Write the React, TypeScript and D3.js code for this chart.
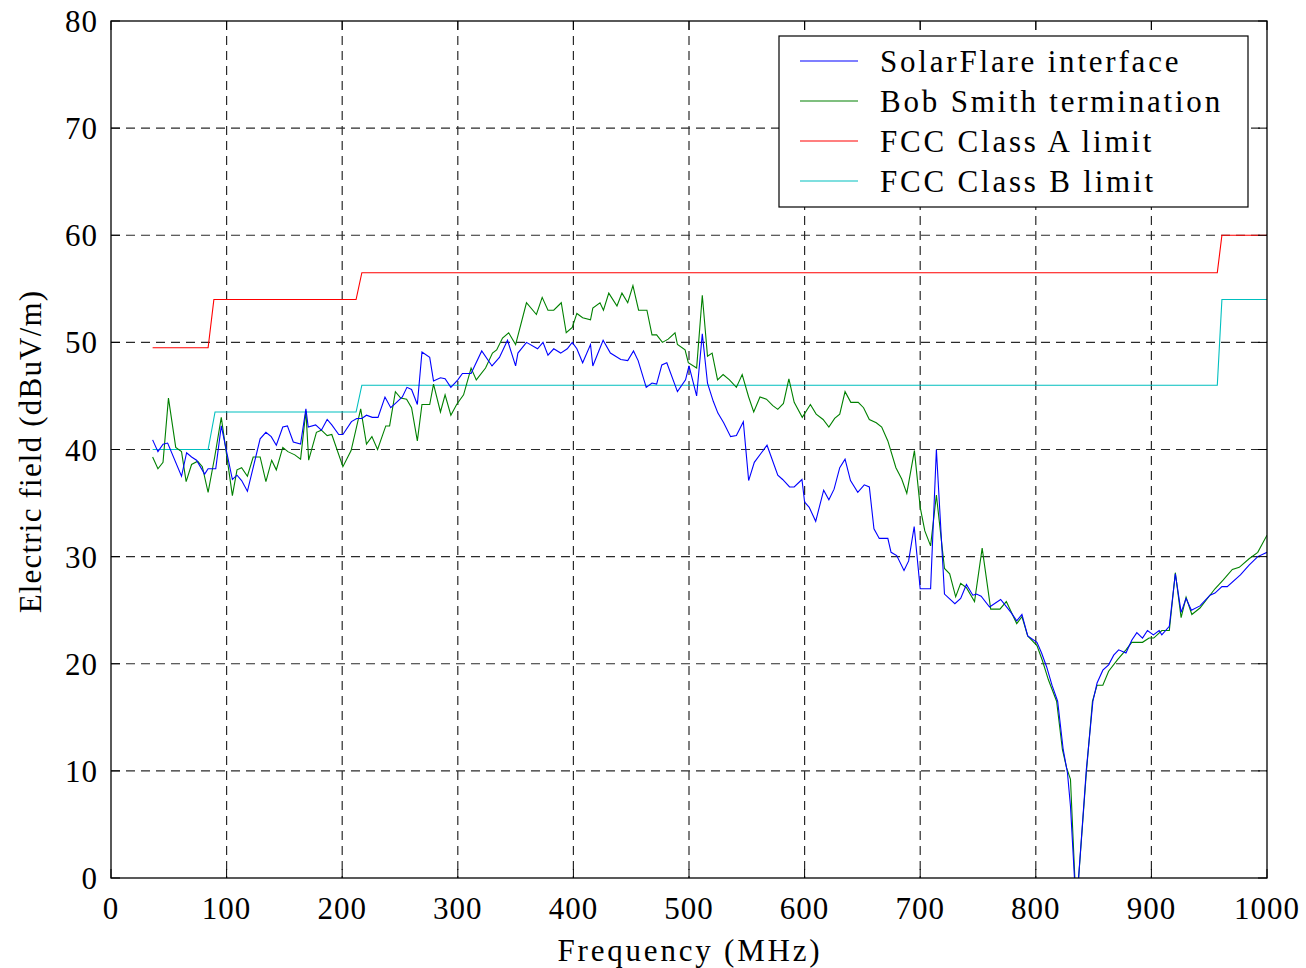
import React from "react";
import * as d3 from "d3";

const xTicks = [0, 100, 200, 300, 400, 500, 600, 700, 800, 900, 1000];
const yTicks = [0, 10, 20, 30, 40, 50, 60, 70, 80];

const solarFreq = [36,40.6,45,49,61,65.4,69.7,74,81,84,90.6,95.4,105,109,113,118,129,134,138.6,143,148.6,152.6,157.7,164,168.6,170.6,177,182,187,191,197,200.6,208,212.6,217,221,226,231,237,242,247,252,256,260,265,269,275.7,279,285,289,294,300,304,311.5,320.7,329.6,336,343,350,352,359.4,369,373.7,378,383,389,394.7,399,403,408,414.8,416.8,425.7,432,441,447,452,456,463,468,472,476.5,480.8,490,497,500,506.6,511.5,516,521,525,530,536,541,547,551.6,556.5,562,567.5,576.8,581,587,591,597.7,600,604,609.6,616.5,621,625.5,630.4,635,639.7,646,651.6,656,660,664.6,672,674.8,679.7,686,690,694.8,700,709,714,721,730,735,740,745.5,748.7,752.7,760,769.6,778.8,783.5,788,793,801,805,809.4,814,818.9,823.7,827.4,830,835,843.7,849.4,853,858,863,867.4,871.7,878,883,887.4,892.3,896.6,901.7,906.7,909,915.5,920.7,925.7,930,934.6,942,950.7,955,961,965.6,977,984.5,992,1000];
const solarValue = [40.9,39.8,40.5,40.6,37.5,39.7,39.3,39.0,37.7,38.2,38.2,42.2,37.2,37.6,37.1,36.1,41,41.6,41.2,40.4,42.1,42.2,40.7,40.5,43.8,42.1,42.3,41.8,42.8,42.3,41.4,41.4,42.6,42.9,42.9,43.2,43,43,44.9,43.9,44.4,44.9,45.8,45.6,44.2,49.1,48.6,46.4,46.7,46.6,45.8,46.5,47.1,47.1,49.2,47.8,48.6,50.2,47.8,49,50,49.4,50,48.8,49.4,49,49.4,50,49.4,48.1,49.8,47.8,50.2,49,48.4,48.3,49.2,48.3,45.8,46.2,46.1,47.9,48.1,45.4,46.5,47.8,45,50.8,46.2,44.5,43.4,42.5,41.2,41.3,42.6,37.1,38.8,39.6,40.4,37.6,37.2,36.5,36.5,37.2,35.1,34.6,33.3,36.2,35.3,36.3,38.3,39.1,37.1,36,36.7,36.5,32.6,31.7,31.7,30.4,30.1,28.7,29.6,32.8,27,27,40,26.5,25.6,26.1,27.4,26.4,26.5,26.3,25.3,26,24.75,24,24.6,22.6,22,21,19.7,18,16.5,12,9.8,6.7,-3,10.1,16.5,18.2,19.4,19.9,20.8,21.3,21,22.2,22.9,22.4,23.1,22.7,23.1,22.7,23.5,28.4,24.8,26.1,25,25.4,26.4,26.6,27.2,27.2,28.3,29.2,30,30.4];

const bobFreq = [36,40.6,45,49.7,56,61,65,69.7,75,79,84,89.7,95.4,105,109,113,118,123,129,134,139,143,148.6,153,159,164,168.6,171,177.7,182,187,191,200.6,207.7,216,221,225.7,230.6,237.7,241,246,250.6,255.7,260,265,269,275.7,279,285,289,294,299,305,311.5,316,324,330,333.6,338.7,344,350,359.4,368,373,378,383,389.5,393.8,399,403,408,414.8,416.8,423,426,430.6,437.7,442,447,451.5,456.4,463.6,468,472,477,482,487.9,490,496.6,499.4,506.6,511.5,516,520,524.7,529.5,535,541,546,551.6,556,561.4,567,572.5,576.8,581.7,586.4,591,598,605,610,616,621,626,630.4,635,640,646.4,651,656,662,666.7,672,679,684,688.4,695,700,704,709,714,721,725.5,730.7,735,740,747,753.6,761,769,774.5,783.5,788,793,801,805.7,810.9,818,823,826.6,830,835,843.7,849,853,858,863,870.9,878,883,892.3,898,902,909,915.5,920.7,925.7,930,935,942,955,962,970,976,984.5,992,1000];
const bobValue = [39.3,38.2,38.8,44.8,40.2,39.8,37,38.6,38.9,38.4,36,39.3,43,35.7,38.1,38.3,37.5,39.3,39.3,37,39,38.1,40.2,39.8,39.5,39.1,43.6,39,41.6,41.8,41.3,41.4,38.4,39.9,43.8,40.5,41.2,40,42.2,42.2,45.4,44.8,44.7,43.9,40.8,44.2,44.2,46.1,43.5,45.1,43.2,44.2,45.1,47.6,46.5,47.6,49,49.3,50.4,50.9,49.8,53.7,52.6,54.2,53,53,53.7,50.9,51.4,52.7,52.3,52.1,53.2,53.7,53,54.6,53.4,54.6,53.7,55.3,53,53,50.7,50.7,50,50.3,50.9,49.8,49.3,48.1,47.6,54.4,48.7,49,46.5,47,46.5,45.8,47,44.9,43.5,44.9,44.7,44.1,43.75,44.3,46.6,44.4,43,44.2,43.3,42.8,42.1,42.9,43.3,45.4,44.4,44.4,43.9,42.8,42.5,42.1,40.8,38.3,37.25,35.9,39.9,34.6,32.4,31,35.75,28.9,28.4,26.25,27.5,27.1,25.8,30.8,25.1,25.1,25.8,23.75,24.4,22.6,21.7,20.3,18.5,16.5,12,10.3,9.2,-3,9.8,16.5,18,18,19.3,20.4,21.3,22,22,22.4,22.4,23.1,23.1,28.5,24.3,26.2,24.6,25.2,27,27.8,28.8,29,29.8,30.4,32];

const classAFreq = [36, 84, 89, 212, 217, 957, 961, 1000];
const classAValue = [49.5, 49.5, 54, 54, 56.5, 56.5, 60, 60];
const classBFreq = [36, 84, 90, 212, 217, 957, 961, 1000];
const classBValue = [40, 40, 43.5, 43.5, 46, 46, 54, 54];

const seriesNames = ["SolarFlare interface", "Bob Smith termination", "FCC Class A limit", "FCC Class B limit"];
const seriesColors = ["#0000ff", "#008000", "#ff0000", "#00bfbf"];

const W = 1306, H = 968;
const L = 111, T = 21, R = 1267, B = 878;
const FONT = "'Liberation Serif', 'Times New Roman', serif";

export default function App() {
  const x = d3.scaleLinear().domain([0, 1000]).range([L, R]);
  const y = d3.scaleLinear().domain([0, 80]).range([B, T]);
  const line = d3.line<[number, number]>().x(d => x(d[0])).y(d => y(d[1]));
  const zip = (f: number[], v: number[]) => f.map((ff, i) => [ff, v[i]] as [number, number]);
  const series = [
    zip(solarFreq, solarValue),
    zip(bobFreq, bobValue),
    zip(classAFreq, classAValue),
    zip(classBFreq, classBValue),
  ];
  const drawOrder = [2, 3, 1, 0];
  const tickLen = 9;
  return (
    <svg width={W} height={H} style={{ position: "absolute", left: 0, top: 0, background: "#fff" }} fontFamily={FONT}>
      <defs>
        <clipPath id="plotclip"><rect x={L} y={T} width={R - L} height={B - T} /></clipPath>
      </defs>
      <rect x={0} y={0} width={W} height={H} fill="#fff" />
      {xTicks.slice(1, -1).map(t => (
        <line key={"gx" + t} x1={x(t)} x2={x(t)} y1={T} y2={B} stroke="#2a2a2a" strokeWidth={1.2} strokeDasharray="9,6" />
      ))}
      {yTicks.slice(1, -1).map(t => (
        <line key={"gy" + t} x1={L} x2={R} y1={y(t)} y2={y(t)} stroke="#2a2a2a" strokeWidth={1.2} strokeDasharray="9,6" />
      ))}
      <g clipPath="url(#plotclip)">
        {drawOrder.map(i => (
          <path key={"s" + i} d={line(series[i]) || ""} fill="none" stroke={seriesColors[i]} strokeWidth={1.1} />
        ))}
      </g>
      <rect x={L} y={T} width={R - L} height={B - T} fill="none" stroke="#000" strokeWidth={1.3} />
      {xTicks.map(t => (
        <g key={"tx" + t}>
          <line x1={x(t)} x2={x(t)} y1={B} y2={B - tickLen} stroke="#000" />
          <line x1={x(t)} x2={x(t)} y1={T} y2={T + tickLen} stroke="#000" />
          <text x={x(t)} y={B + 41} textAnchor="middle" fontSize={31} letterSpacing={1}>{t}</text>
        </g>
      ))}
      {yTicks.map(t => (
        <g key={"ty" + t}>
          <line x1={L} x2={L + tickLen} y1={y(t)} y2={y(t)} stroke="#000" />
          <line x1={R} x2={R - tickLen} y1={y(t)} y2={y(t)} stroke="#000" />
          <text x={98} y={y(t) + 11} textAnchor="end" fontSize={31} letterSpacing={1}>{t}</text>
        </g>
      ))}
      <text x={(L + R) / 2 + 1} y={961} textAnchor="middle" fontSize={31} letterSpacing={2.8}>Frequency (MHz)</text>
      <text transform={`translate(41, ${(T + B) / 2 + 2}) rotate(-90)`} textAnchor="middle" fontSize={31} letterSpacing={1.2}>Electric field (dBuV/m)</text>
      <rect x={779} y={36} width={469} height={171} fill="#fff" stroke="#000" strokeWidth={1.2} />
      {seriesNames.map((n, i) => (
        <g key={"lg" + i}>
          <line x1={800} x2={858} y1={61 + i * 40} y2={61 + i * 40} stroke={seriesColors[i]} strokeWidth={1.1} />
          <text x={880} y={72 + i * 40} fontSize={31} letterSpacing={2.8}>{n}</text>
        </g>
      ))}
    </svg>
  );
}
